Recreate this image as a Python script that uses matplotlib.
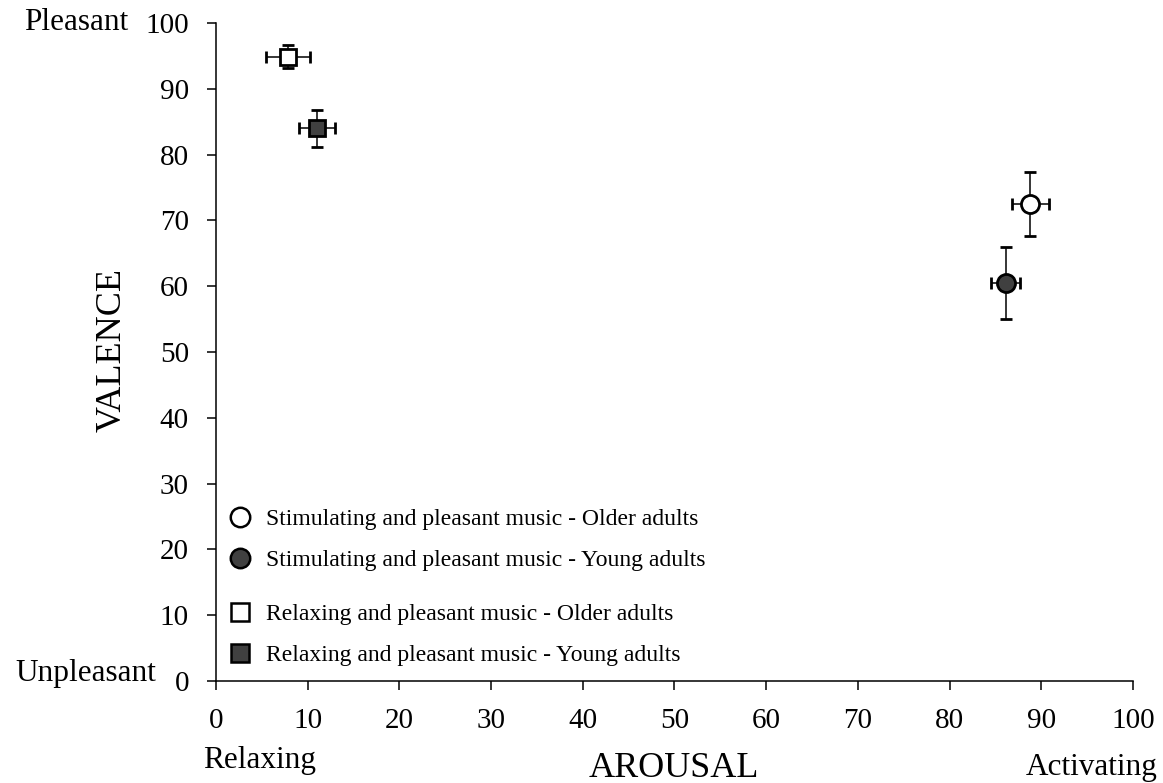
import matplotlib
matplotlib.use('Agg')
import matplotlib.pyplot as plt
from matplotlib.lines import Line2D

plt.rcParams['font.family'] = ['Liberation Serif', 'DejaVu Serif']

# arousal / valence means with horizontal and vertical error
groups = ['Stimulating and pleasant music - Older adults',
          'Stimulating and pleasant music - Young adults',
          'Relaxing and pleasant music - Older adults',
          'Relaxing and pleasant music - Young adults']
arousal = [88.8, 86.1, 7.9, 11.0]
valence = [72.5, 60.5, 94.9, 84.0]
arousal_err = [2.0, 1.6, 2.4, 2.0]
valence_err = [4.8, 5.5, 1.8, 2.8]
markers = ['o', 'o', 's', 's']
sizes = [13, 13, 11.5, 11.5]
fills = ['white', '#404040', 'white', '#404040']

ticks = list(range(0, 101, 10))

fig = plt.figure(figsize=(11.63, 7.83), dpi=100)
ax = fig.add_axes([0.1857, 0.1303, 0.7885, 0.8403])

for i in range(len(groups)):
    ax.errorbar(arousal[i], valence[i], xerr=arousal_err[i], yerr=valence_err[i],
                fmt=markers[i], mfc=fills[i], mec='black', mew=2.0, ms=sizes[i],
                ecolor='black', elinewidth=1.1, capsize=4.2, capthick=1.1,
                clip_on=False, zorder=3)

ax.set_xlim(0, 100)
ax.set_ylim(0, 100)
ax.set_xticks(ticks)
ax.set_yticks(ticks)
ax.spines['top'].set_visible(False)
ax.spines['right'].set_visible(False)
for s in ['left', 'bottom']:
    ax.spines[s].set_linewidth(1.1)
ax.tick_params(direction='out', length=6.5, width=1.1, labelsize=21, pad=13)

fig.text(0.0963, 0.553, 'VALENCE', fontsize=26, rotation=90, ha='center', va='center')
fig.text(0.5795, 0.019, 'AROUSAL', fontsize=26, ha='center', va='center')

fig.text(0.2236, 0.029, 'Relaxing', fontsize=22.5, ha='center', va='center')
fig.text(0.995, 0.020, 'Activating', fontsize=22.5, ha='right', va='center')
fig.text(0.110, 0.971, 'Pleasant', fontsize=22.5, ha='right', va='center')
fig.text(0.134, 0.140, 'Unpleasant', fontsize=22.5, ha='right', va='center')

handles = [Line2D([], [], ls='none', marker=markers[i], mfc=fills[i], mec='black',
                  mew=1.8, ms=sizes[i] + 1.0) for i in range(4)]
leg_kw = dict(loc='center left', frameon=False, fontsize=17, handlelength=1.0,
              handletextpad=0.6, labelspacing=0.8, borderaxespad=0.1)
leg1 = ax.legend(handles[:2], groups[:2], bbox_to_anchor=(0.0, 0.2145), **leg_kw)
ax.add_artist(leg1)
ax.legend(handles[2:], groups[2:], bbox_to_anchor=(0.0, 0.070), **leg_kw)

fig.savefig('out.png', dpi=100)
